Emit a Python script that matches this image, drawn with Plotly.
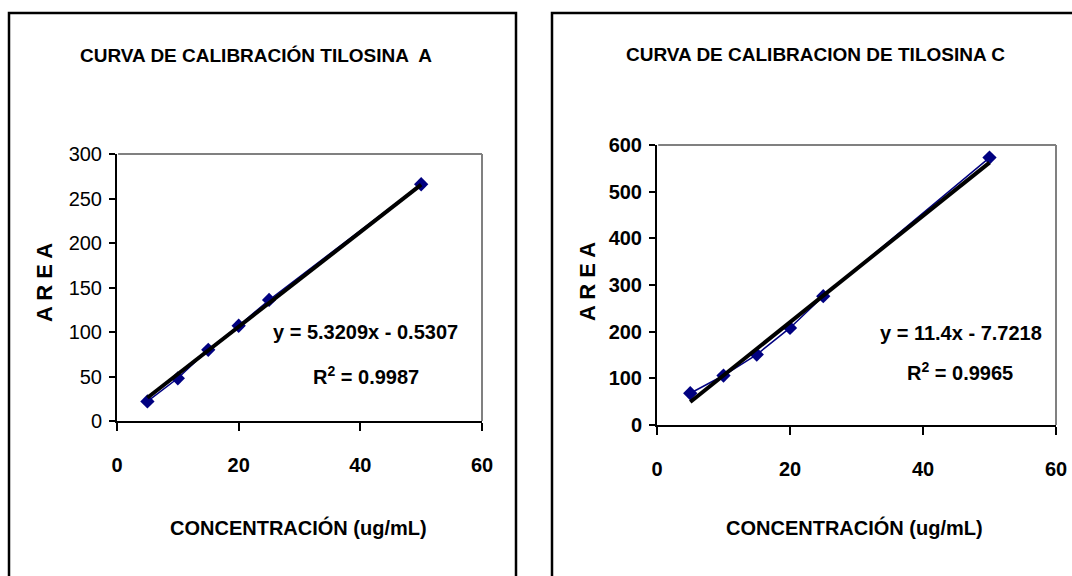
import plotly.graph_objects as go

# ---- data ----
conc = [5, 10, 15, 20, 25, 50]
area_a = [22, 48, 80, 107, 136, 266]
area_c = [68, 106, 151, 208, 276, 573]
slope_a, icpt_a, r2_a = 5.3209, -0.5307, 0.9987
slope_c, icpt_c, r2_c = 11.4, -7.7218, 0.9965
title_a = "CURVA DE CALIBRACIÓN TILOSINA  A"
title_c = "CURVA DE CALIBRACION DE TILOSINA C"
x_title = "CONCENTRACIÓN (ug/mL)"
y_title = "A R E A"
x_ticks = [0, 20, 40, 60]
y_ticks_a = [0, 50, 100, 150, 200, 250, 300]
y_ticks_c = [0, 100, 200, 300, 400, 500, 600]

W, H = 1072, 576
FONT = "Liberation Sans, Arial, sans-serif"
NAVY = "#000080"

def px(x):
    return x / W

def py(y):
    return 1 - y / H

fig = go.Figure()

def add_chart(xa, ya, yvals, slope, icpt):
    fig.add_trace(go.Scatter(
        x=conc, y=yvals, xaxis=xa, yaxis=ya, mode="lines+markers",
        line=dict(color=NAVY, width=1.5),
        marker=dict(symbol="diamond", size=11, color=NAVY),
        hoverinfo="skip", cliponaxis=False))
    tx = [min(conc), max(conc)]
    fig.add_trace(go.Scatter(
        x=tx, y=[slope * v + icpt for v in tx], xaxis=xa, yaxis=ya,
        mode="lines", line=dict(color="black", width=4), hoverinfo="skip"))

add_chart("x", "y", area_a, slope_a, icpt_a)
add_chart("x2", "y2", area_c, slope_c, icpt_c)

xcommon = dict(range=[0, 60], tickvals=x_ticks, showgrid=False, zeroline=False,
               showline=True, linecolor="black", linewidth=2, ticks="outside",
               ticklen=8, tickwidth=2, tickcolor="black", automargin=False,
               tickfont=dict(family=FONT, size=20, color="black", weight=700),
               ticklabelstandoff=17, ticklabeloverflow="allow", fixedrange=True)
ycommon = dict(showgrid=False, zeroline=False, showline=True, linecolor="black",
               linewidth=2, ticks="outside", ticklen=6, tickwidth=2,
               tickcolor="black", ticklabelstandoff=3, fixedrange=True,
               automargin=False)

fig.update_layout(
    width=W, height=H, margin=dict(l=0, r=0, t=0, b=0, autoexpand=False),
    paper_bgcolor="white", plot_bgcolor="white", showlegend=False,
    xaxis=dict(domain=[px(117), px(482)], anchor="y", **xcommon),
    yaxis=dict(domain=[py(421), py(154)], anchor="x", range=[0, 300],
               tickvals=y_ticks_a,
               tickfont=dict(family=FONT, size=20, color="black"), **ycommon),
    xaxis2=dict(domain=[px(657), px(1056)], anchor="y2", **xcommon),
    yaxis2=dict(domain=[py(425), py(145)], anchor="x2", range=[0, 600],
                tickvals=y_ticks_c,
                tickfont=dict(family=FONT, size=20, color="black", weight=700),
                **ycommon),
)

shapes = []
# chart area borders
shapes.append(dict(type="rect", xref="paper", yref="paper",
                   x0=px(9), x1=px(516), y0=-0.05, y1=py(13),
                   line=dict(color="black", width=2.5)))
shapes.append(dict(type="rect", xref="paper", yref="paper",
                   x0=px(552), x1=1.05, y0=-0.05, y1=py(13),
                   line=dict(color="black", width=2.5)))
# plot-area grey top/right border
for xa, ya in (("x", "y"), ("x2", "y2")):
    shapes.append(dict(type="line", xref=xa + " domain", yref=ya + " domain",
                       x0=0.003, x1=1, y0=1, y1=1, line=dict(color="#808080", width=2)))
    shapes.append(dict(type="line", xref=xa + " domain", yref=ya + " domain",
                       x0=1, x1=1, y0=0, y1=1, line=dict(color="#808080", width=2)))
fig.update_layout(shapes=shapes)

def ann(text, x, y, size, angle=0):
    return dict(text=text, x=px(x), y=py(y), xref="paper", yref="paper",
                showarrow=False, xanchor="center", yanchor="middle",
                textangle=angle,
                font=dict(family=FONT, size=size, color="black", weight=700))

def eq_text(slope, icpt):
    sign = "-" if icpt < 0 else "+"
    return f"y = {slope:g}x {sign} {abs(icpt):g}"

annotations = [
    ann(title_a, 256, 55, 19),
    ann(title_c, 815, 54, 19),
    ann(y_title, 44, 283, 22, angle=-90),
    ann(y_title, 588, 282, 22, angle=-90),
    ann(x_title, 298, 527, 20),
    ann(x_title, 854, 527, 20),
    ann(eq_text(slope_a, icpt_a), 365, 332, 20),
    ann(f"R<sup>2</sup> = {r2_a:g}", 366, 375, 20),
    ann(eq_text(slope_c, icpt_c), 961, 333, 20),
    ann(f"R<sup>2</sup> = {r2_c:g}", 960, 371, 20),
]
fig.update_layout(annotations=annotations)

fig.write_html(
    "out.html",
    config={"displayModeBar": False, "staticPlot": True},
    post_script="document.body.style.margin='0';document.body.style.overflow='hidden';",
)
